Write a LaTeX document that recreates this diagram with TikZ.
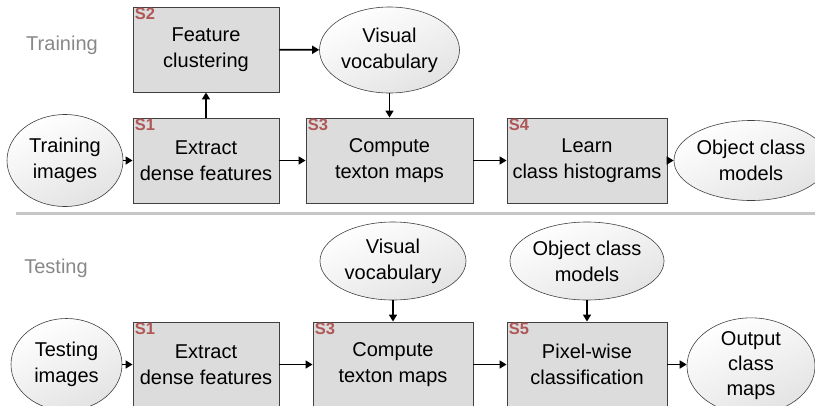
\documentclass[tikz,border=0pt]{standalone}
\usepackage{fontspec}
\setmainfont{Liberation Sans}
\usetikzlibrary{shapes.geometric,arrows.meta}
\definecolor{boxfill}{HTML}{DCDCDC}
\definecolor{edge}{HTML}{404040}
\definecolor{slab}{HTML}{B05858}
\definecolor{ttl}{HTML}{888888}
\tikzset{
  stepbox/.style={rectangle, draw=edge, line width=0.9pt, fill=boxfill, minimum height=85pt, inner sep=0pt, align=center, font=\fontsize{20}{26}\selectfont},
  dataell/.style={ellipse, draw=edge, line width=0.6pt, top color=white, bottom color=gray!22, shading angle=25, inner sep=0pt, align=center, font=\fontsize{20}{26}\selectfont},
  slabel/.style={anchor=north west, inner sep=1.5pt, xshift=0.5pt, text=slab, font=\fontsize{16.5}{16.5}\selectfont\bfseries},
  flow/.style={-{Triangle[length=7pt,width=8pt]}, line width=1.6pt, black},
  sect/.style={text=ttl, font=\fontsize{20}{24}\selectfont}
}
\begin{document}
\begin{tikzpicture}[x=1pt,y=-1pt]
\useasboundingbox (0,0) rectangle (815,405);
% Training
\node[sect] (trainlbl) at (62,45) {Training};
\node[stepbox, minimum width=146pt] (s2) at (206,49.5) {Feature\\clustering};
\node[slabel] at (s2.north west) {S2};
\node[stepbox, minimum width=146pt] (s1a) at (206,160.5) {Extract\\dense features};
\node[slabel] at (s1a.north west) {S1};
\node[stepbox, minimum width=167pt] (s3a) at (389.5,160.5) {Compute\\texton maps};
\node[slabel] at (s3a.north west) {S3};
\node[stepbox, minimum width=160pt] (s4) at (587,160.5) {Learn\\class histograms};
\node[slabel] at (s4.north west) {S4};
\node[dataell, minimum width=116pt, minimum height=92pt] (trimg) at (65,160.5) {Training\\images};
\node[dataell, minimum width=140pt, minimum height=86pt] (vva) at (389.5,50) {Visual\\vocabulary};
\node[dataell, minimum width=128pt, minimum height=80pt] (ocma) at (751,160.5) {Object class\\models};
\draw[flow] (trimg) -- (s1a);
\draw[flow] (s1a) -- (s2);
\draw[flow] (s2) -- (vva);
\draw[flow] (vva) -- (s3a);
\draw[flow] (s1a) -- (s3a);
\draw[flow] (s3a) -- (s4);
\draw[flow] (s4) -- (ocma);
% separator
\draw[gray!45, line width=3pt] (16,213) -- (815,213);
% Testing
\node[sect] (testlbl) at (56,268) {Testing};
\node[stepbox, minimum width=146pt] (s1b) at (206,364.5) {Extract\\dense features};
\node[slabel] at (s1b.north west) {S1};
\node[stepbox, minimum width=160pt] (s3b) at (393,364.5) {Compute\\texton maps};
\node[slabel] at (s3b.north west) {S3};
\node[stepbox, minimum width=160pt] (s5) at (587,364.5) {Pixel-wise\\classification};
\node[slabel] at (s5.north west) {S5};
\node[dataell, minimum width=111pt, minimum height=92pt] (teimg) at (66.5,364.5) {Testing\\images};
\node[dataell, minimum width=146pt, minimum height=78pt] (vvb) at (393,261) {Visual\\vocabulary};
\node[dataell, minimum width=132pt, minimum height=78pt] (ocmb) at (587,261) {Object class\\models};
\node[dataell, minimum width=128pt, minimum height=92pt, font=\fontsize{20}{25}\selectfont] (outm) at (751,366) {Output\\class\\maps};
\draw[flow] (teimg) -- (s1b);
\draw[flow] (s1b) -- (s3b);
\draw[flow] (vvb) -- (s3b);
\draw[flow] (s3b) -- (s5);
\draw[flow] (ocmb) -- (s5);
\draw[flow] (s5.east) -- (s5.east -| outm.west);
\end{tikzpicture}
\end{document}
